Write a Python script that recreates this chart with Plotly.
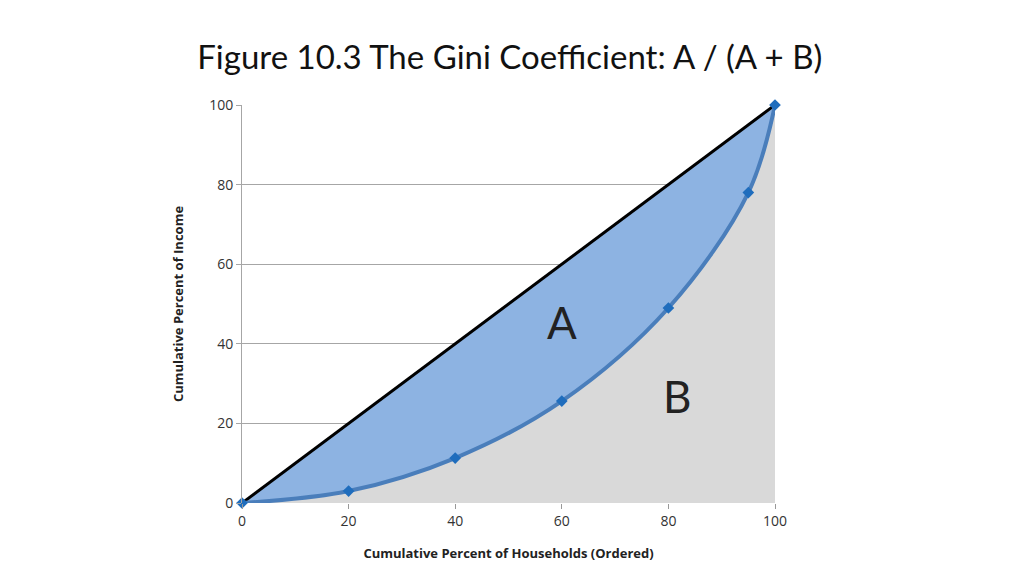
import plotly.graph_objects as go

households = [0, 20, 40, 60, 80, 95, 100]
income = [0, 3, 11.3, 25.6, 49, 78, 100]
equality_x = [0, 100]
equality_y = [0, 100]
ticks = [0, 20, 40, 60, 80, 100]

fig = go.Figure()

# area B: under the lorenz curve
fig.add_trace(go.Scatter(
    x=households, y=income,
    mode="lines",
    line=dict(shape="spline", width=0, color="#d9d9d9"),
    fill="tozeroy", fillcolor="#d9d9d9",
    hoverinfo="skip",
))

# line of equality
fig.add_trace(go.Scatter(
    x=equality_x, y=equality_y,
    mode="lines",
    line=dict(color="black", width=3),
    cliponaxis=False,
))

# area A + lorenz curve
fig.add_trace(go.Scatter(
    x=households, y=income,
    mode="lines+markers",
    line=dict(shape="spline", width=4, color="#4a7ebb"),
    marker=dict(symbol="diamond", size=9, color="#1f6dbd"),
    fill="tonexty", fillcolor="#8db3e2",
    cliponaxis=False,
))

fig.add_annotation(x=60, y=45.5, text="A", showarrow=False,
                   font=dict(size=44, color="#222222", family="Lato"))
fig.add_annotation(x=81.6, y=27, text="B", showarrow=False,
                   font=dict(size=44, color="#222222", family="Lato"))

fig.update_xaxes(
    range=[0, 100], tickvals=ticks, showgrid=False, zeroline=False,
    ticks="outside", ticklen=5, tickcolor="#999999",
    tickfont=dict(size=14, color="#333333"),
    title=dict(text="<b>Cumulative Percent of Households (Ordered)</b>",
               font=dict(size=13, color="#222222"), standoff=20),
)
fig.update_yaxes(
    range=[0, 100], tickvals=ticks, showgrid=True, gridcolor="#a6a6a6",
    zeroline=False, showline=True, linecolor="#a6a6a6",
    ticks="outside", ticklen=5, tickcolor="#a6a6a6",
    tickfont=dict(size=14, color="#333333"),
    title=dict(text="<b>Cumulative Percent of Income</b>",
               font=dict(size=13, color="#222222"), standoff=22),
)

fig.update_layout(
    width=1024, height=576,
    margin=dict(l=234, r=257, t=97, b=81),
    plot_bgcolor="white", paper_bgcolor="white",
    showlegend=False,
    font=dict(family="Open Sans"),
    title=dict(text="Figure 10.3 The Gini Coefficient: A / (A + B)",
               x=0.49, xanchor="center", y=0.915, yanchor="middle",
               font=dict(size=33, color="#111111", family="Lato")),
)

fig.write_html("out.html")
